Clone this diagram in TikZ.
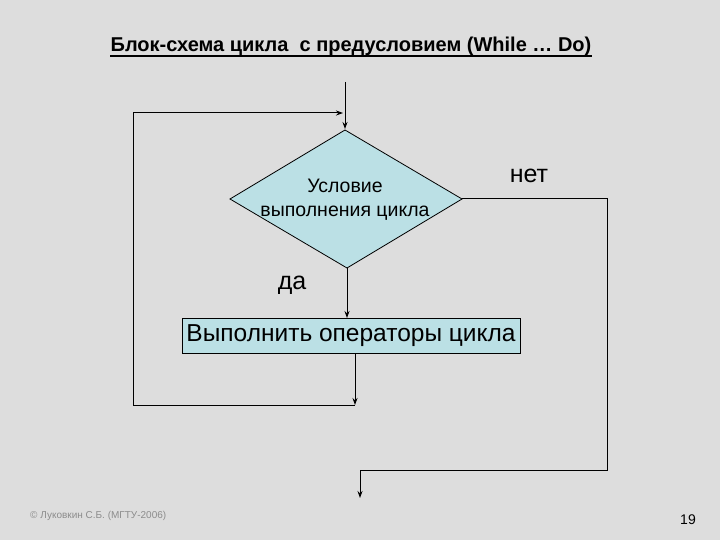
\documentclass[tikz,border=0pt]{standalone}
\usepackage{fontspec}
\setmainfont{Liberation Sans}
\usetikzlibrary{shapes.geometric,arrows.meta}
\definecolor{bg}{RGB}{221,221,221}
\definecolor{cyanfill}{RGB}{187,224,229}
\begin{document}
\begin{tikzpicture}[x=1pt,y=-1pt,
  line/.style={draw=black,line width=1pt},
  arr/.style={line,-{Stealth[length=7pt,width=5pt]}},
  lbl/.style={inner sep=0pt,font=\fontsize{25}{28}\selectfont}]
\fill[bg] (0,0) rectangle (720,540);
\useasboundingbox (0,0) rectangle (720,540);
% title
\node[inner sep=0pt,anchor=base,font=\fontsize{20}{24}\selectfont\bfseries] (title) at (351,52)
  {Блок-схема цикла\ \ с предусловием (While … Do)};
\draw[line width=1.2pt] (110,56) -- (592,56);
% diamond
\coordinate (dt) at (345,130);
\coordinate (dl) at (230,199);
\coordinate (dr) at (462,199);
\coordinate (db) at (347,268);
\filldraw[fill=cyanfill,draw=black,line width=0.8pt] (dt) -- (dr) -- (db) -- (dl) -- cycle;
\node[align=center,inner sep=0pt,font=\fontsize{19.5}{24}\selectfont] (cond) at (345,200)
  {Условие\\ выполнения цикла};
% box
\node[draw=black,line width=0.8pt,fill=cyanfill,minimum width=338pt,minimum height=35pt,inner sep=0pt,font=\fontsize{24.5}{28}\selectfont] (body) at (351,335.5)
  {Выполнить операторы цикла};
% labels
\node[lbl] (net) at (529,176) {нет};
\node[lbl] (da) at (292,285) {да};
\node[inner sep=0pt,text=black!45,anchor=west,font=\fontsize{10}{12}\selectfont] (copy) at (30,516) {© Луковкин С.Б. (МГТУ-2006)};
\node[inner sep=0pt,font=\fontsize{14}{16}\selectfont] (page) at (688,520) {19};
% coordinates
\coordinate (in) at (345,82);
\coordinate (lt) at (133,113);
\coordinate (lb) at (133,405);
\coordinate (bb) at (355,353);
\coordinate (bj) at (355,405);
\coordinate (rt) at (607,199);
\coordinate (rb) at (607,470);
\coordinate (ob) at (360,470);
\coordinate (out) at (360,498);
\coordinate (dtop) at (345,129);
\coordinate (tin) at (343,113);
% connectors
\draw[arr] (in) -- (dtop);
\draw[arr] (lb) -- (lt) -- (tin);
\draw[arr] (db) -- (347,318);
\draw[arr] (bb) -- (bj);
\draw[line] (bj) -- (lb);
\draw[line] (dr) -- (rt) -- (rb) -- (ob);
\draw[arr] (ob) -- (out);
\end{tikzpicture}
\end{document}
